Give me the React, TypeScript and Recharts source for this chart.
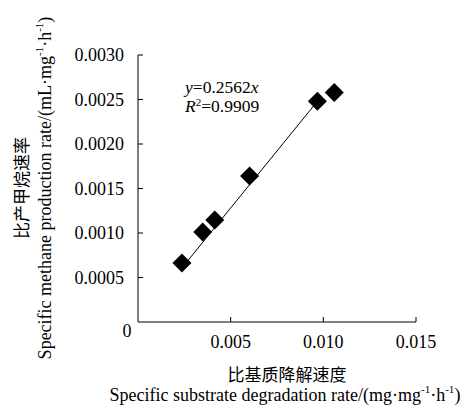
import React from 'react';
import { ScatterChart, Scatter, XAxis, YAxis } from 'recharts';

const rateX = [0.00237, 0.00349, 0.00414, 0.00602, 0.00968, 0.01059];
const rateY = [0.000663, 0.00101, 0.001146, 0.00164, 0.00248, 0.00258];
const fitX = [0.0024, 0.0097];
const fitY = [0.000615, 0.002485];
const xTicks = [0, 0.005, 0.01, 0.015];
const yTicks = [0, 0.0005, 0.001, 0.0015, 0.002, 0.0025, 0.003];

const points = rateX.map((x, i) => ({ x, y: rateY[i] }));
const fitLine = fitX.map((x, i) => ({ x, y: fitY[i] }));

const serif = '"Liberation Serif", "Noto Sans CJK SC", serif';
const cjk = '"Noto Sans CJK SC", serif';
const txt = (size: number, family = serif) => ({ fontFamily: family, fontSize: size });

const Diamond = (props: any) => {
  const { cx, cy } = props;
  const r = 9.5;
  return (
    <polygon
      points={`${cx},${cy - r} ${cx + r},${cy} ${cx},${cy + r} ${cx - r},${cy}`}
      fill="#000"
    />
  );
};

const YTick = (props: any) => {
  const { x, y, payload } = props;
  if (payload.value === 0) {
    return (
      <text x={x - 11} y={y + 9} textAnchor="middle" dominantBaseline="central" style={txt(18)} fill="#000">
        0
      </text>
    );
  }
  return (
    <g>
      <line x1={x} y1={y} x2={x + 5} y2={y} stroke="#000" />
      <text x={x - 14} y={y} textAnchor="end" dominantBaseline="central" style={txt(18)} fill="#000">
        {payload.value.toFixed(4)}
      </text>
    </g>
  );
};

const XTick = (props: any) => {
  const { x, y, payload } = props;
  if (payload.value === 0) return null;
  return (
    <g>
      <line x1={x} y1={y} x2={x} y2={y - 5} stroke="#000" />
      <text x={x} y={y + 20} textAnchor="middle" dominantBaseline="central" style={txt(18)} fill="#000">
        {payload.value.toFixed(3)}
      </text>
    </g>
  );
};

// unit text with superscripts: (mL·mg⁻¹·h⁻¹)
const Unit = ({ a }: { a: string }) => (
  <>
    {a}·mg
    <tspan dy={-6} style={{ fontSize: 11 }}>-1</tspan>
    <tspan dy={6}>·h</tspan>
    <tspan dy={-6} style={{ fontSize: 11 }}>-1</tspan>
    <tspan dy={6}>)</tspan>
  </>
);

export default function App() {
  return (
    <div style={{ position: 'absolute', left: 0, top: 0, background: '#fff' }}>
      <ScatterChart width={465} height={405} margin={{ top: 55, right: 49, bottom: 0, left: 0 }}>
        <XAxis
          type="number"
          dataKey="x"
          domain={[0, 0.015]}
          ticks={xTicks}
          height={83}
          tickSize={0}
          tickMargin={0}
          axisLine={{ stroke: '#000' }}
          tick={<XTick />}
        />
        <YAxis
          type="number"
          dataKey="y"
          domain={[0, 0.003]}
          ticks={yTicks}
          width={138}
          tickSize={0}
          tickMargin={0}
          axisLine={{ stroke: '#000' }}
          tick={<YTick />}
        />
        <Scatter data={fitLine} line={{ stroke: '#000', strokeWidth: 1 }} shape={() => null} isAnimationActive={false} />
        <Scatter data={points} shape={<Diamond />} isAnimationActive={false} />
        <text x={185} y={93} style={txt(17.5)} fill="#000">
          <tspan fontStyle="italic">y</tspan>=0.2562<tspan fontStyle="italic">x</tspan>
        </text>
        <text x={185} y={112} style={txt(17.5)} fill="#000">
          <tspan fontStyle="italic">R</tspan>
          <tspan dy={-6} style={{ fontSize: 11 }}>2</tspan>
          <tspan dy={6}>=0.9909</tspan>
        </text>
        <text transform="rotate(-90, 20, 188)" x={20} y={188} textAnchor="middle" dominantBaseline="central" style={txt(17, cjk)} fill="#000">
          比产甲烷速率
        </text>
        <text transform="rotate(-90, 45, 188)" x={45} y={188} textAnchor="middle" dominantBaseline="central" style={txt(18)} fill="#000">
          Specific methane production rate/(<Unit a="mL" />
        </text>
        <text x={287} y={373} textAnchor="middle" dominantBaseline="central" style={txt(17, cjk)} fill="#000">
          比基质降解速度
        </text>
        <text x={285} y={395} textAnchor="middle" dominantBaseline="central" style={txt(18)} fill="#000">
          Specific substrate degradation rate/(<Unit a="mg" />
        </text>
      </ScatterChart>
    </div>
  );
}
